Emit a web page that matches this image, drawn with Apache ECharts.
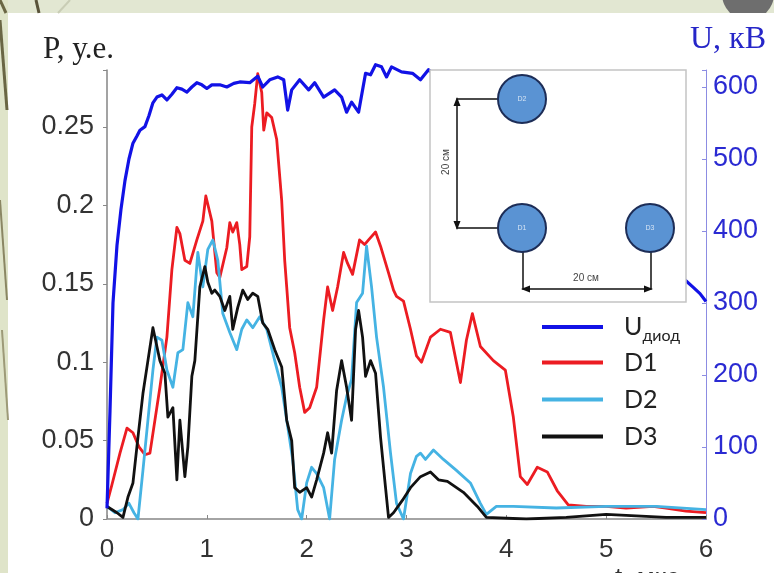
<!DOCTYPE html>
<html>
<head>
<meta charset="utf-8">
<script src="https://cdn.jsdelivr.net/npm/echarts@6/dist/echarts.min.js"></script>
<style>
  html, body { margin: 0; padding: 0; background: #fff; }
  #chart { width: 774px; height: 573px; }
</style>
</head>
<body>
<div id="chart"></div>
<script>
// Time axis, мкс
const xTicks = [0, 1, 2, 3, 4, 5, 6];
const pTicks = [0, 0.05, 0.1, 0.15, 0.2, 0.25];
const uTicks = [0, 100, 200, 300, 400, 500, 600];

// Diode voltage U, кВ  ([t, U])
const uDiod = [
  [0,15],[0.03,150],[0.06,300],[0.1,380],[0.14,430],[0.18,470],[0.22,500],[0.26,522],
  [0.3,532],[0.33,540],[0.38,545],[0.42,560],[0.46,578],[0.5,586],[0.55,589],[0.6,582],
  [0.65,590],[0.7,599],[0.75,597],[0.8,593],[0.85,600],[0.9,606],[0.95,603],[1.0,598],
  [1.05,603],[1.13,603],[1.2,600],[1.27,605],[1.33,607],[1.43,606],[1.51,615],[1.56,600],
  [1.63,610],[1.71,614],[1.77,610],[1.81,568],[1.85,596],[1.93,610],[2.02,596],[2.08,606],
  [2.17,586],[2.28,596],[2.35,586],[2.4,565],[2.45,579],[2.52,565],[2.59,619],[2.64,617],
  [2.69,631],[2.75,628],[2.8,614],[2.85,628],[2.95,621],[3.06,619],[3.14,610],[3.22,624],
  [5.79,332],[5.87,322],[5.94,313],[6.0,302]
];

// Detector D1, у.е.
const d1 = [
  [0,0.010],[0.05,0.022],[0.13,0.042],[0.2,0.058],[0.26,0.055],[0.32,0.046],[0.38,0.041],
  [0.43,0.042],[0.53,0.084],[0.6,0.116],[0.65,0.159],[0.7,0.186],[0.73,0.182],[0.78,0.165],
  [0.83,0.163],[0.9,0.178],[0.96,0.19],[0.99,0.206],[1.05,0.19],[1.1,0.157],[1.13,0.154],
  [1.2,0.173],[1.23,0.189],[1.26,0.183],[1.3,0.189],[1.33,0.175],[1.35,0.159],[1.4,0.161],
  [1.43,0.18],[1.45,0.25],[1.48,0.265],[1.51,0.284],[1.55,0.272],[1.57,0.248],[1.6,0.259],
  [1.65,0.256],[1.7,0.242],[1.75,0.203],[1.78,0.165],[1.8,0.148],[1.83,0.122],[1.88,0.106],
  [1.93,0.084],[1.98,0.068],[2.03,0.071],[2.1,0.084],[2.17,0.127],[2.21,0.148],[2.26,0.133],
  [2.31,0.148],[2.37,0.17],[2.41,0.163],[2.46,0.156],[2.53,0.178],[2.58,0.175],[2.62,0.178],
  [2.69,0.183],[2.74,0.174],[2.82,0.157],[2.87,0.146],[2.9,0.142],[2.97,0.139],[3.04,0.121],
  [3.1,0.104],[3.15,0.1],[3.24,0.116],[3.34,0.121],[3.44,0.119],[3.54,0.087],[3.6,0.114],
  [3.66,0.131],[3.74,0.11],[3.87,0.101],[3.99,0.095],[4.07,0.065],[4.14,0.027],[4.21,0.022],
  [4.31,0.033],[4.41,0.03],[4.51,0.018],[4.62,0.009],[4.8,0.008],[5.0,0.008],[5.2,0.007],
  [5.47,0.008],[5.6,0.007],[5.8,0.005],[6.0,0.004]
];

// Detector D2, у.е.
const d2 = [
  [0,0.008],[0.08,0.004],[0.16,0.006],[0.22,0.01],[0.27,0.004],[0.31,0.0],[0.36,0.031],
  [0.41,0.063],[0.46,0.095],[0.5,0.116],[0.55,0.114],[0.6,0.095],[0.66,0.084],[0.71,0.106],
  [0.76,0.108],[0.81,0.138],[0.86,0.129],[0.91,0.17],[0.96,0.148],[1.01,0.172],[1.06,0.178],
  [1.11,0.165],[1.16,0.131],[1.23,0.119],[1.3,0.108],[1.35,0.121],[1.4,0.127],[1.46,0.122],
  [1.53,0.129],[1.6,0.121],[1.68,0.101],[1.75,0.084],[1.81,0.059],[1.86,0.038],[1.91,0.006],
  [1.95,0.0],[2.0,0.023],[2.05,0.033],[2.1,0.029],[2.17,0.02],[2.23,0.0],[2.28,0.038],
  [2.35,0.063],[2.4,0.078],[2.45,0.089],[2.5,0.138],[2.56,0.144],[2.6,0.174],[2.65,0.148],
  [2.7,0.116],[2.77,0.084],[2.84,0.042],[2.9,0.01],[2.97,0.0],[3.04,0.029],[3.1,0.04],
  [3.14,0.042],[3.19,0.038],[3.27,0.044],[3.37,0.038],[3.5,0.031],[3.64,0.023],[3.74,0.01],
  [3.8,0.003],[3.9,0.008],[4.07,0.008],[4.5,0.007],[5.0,0.008],[5.5,0.008],[6.0,0.006]
];

// Detector D3, у.е.
const d3 = [
  [0,0.008],[0.1,0.004],[0.16,0.001],[0.21,0.014],[0.26,0.023],[0.31,0.052],[0.36,0.08],
  [0.41,0.101],[0.46,0.122],[0.5,0.11],[0.53,0.101],[0.58,0.093],[0.61,0.065],[0.66,0.071],
  [0.7,0.025],[0.73,0.063],[0.78,0.027],[0.81,0.046],[0.85,0.091],[0.88,0.101],[0.93,0.148],
  [0.98,0.161],[1.01,0.151],[1.05,0.144],[1.08,0.146],[1.13,0.142],[1.18,0.133],[1.23,0.142],
  [1.26,0.121],[1.31,0.135],[1.36,0.146],[1.41,0.14],[1.46,0.144],[1.51,0.142],[1.56,0.125],
  [1.61,0.121],[1.68,0.108],[1.75,0.097],[1.8,0.063],[1.85,0.05],[1.88,0.02],[1.93,0.017],
  [2.0,0.02],[2.05,0.014],[2.1,0.025],[2.17,0.042],[2.21,0.055],[2.25,0.042],[2.3,0.082],
  [2.35,0.101],[2.4,0.084],[2.45,0.063],[2.49,0.121],[2.52,0.133],[2.56,0.116],[2.59,0.091],
  [2.64,0.101],[2.69,0.093],[2.74,0.052],[2.79,0.02],[2.82,0.001],[2.87,0.004],[2.96,0.012],
  [3.04,0.02],[3.14,0.027],[3.24,0.03],[3.32,0.025],[3.41,0.024],[3.57,0.017],[3.71,0.008],
  [3.8,0.001],[4.2,0.0],[4.6,0.001],[5.0,0.003],[5.3,0.002],[5.6,0.001],[6.0,0.001]
];

const seriesNames = ['Uдиод', 'D1', 'D2', 'D3'];
const seriesColors = ['#1212e6', '#ec1c22', '#45b3e3', '#111111'];

// Plot box
const GRID = { left: 107, right: 68, top: 70, bottom: 54 };
const PX_PER_P = 1568;   // px per 1 у.е.
const PX_PER_U = 0.72;   // px per 1 кВ
const plotH = 573 - GRID.top - GRID.bottom;
const P_MAX = plotH / PX_PER_P;
const U_MAX = plotH / PX_PER_U;

function onStep(step, digits) {
  return v => {
    const k = v / step;
    if (Math.abs(k - Math.round(k)) > 1e-6) return '';
    return String(+v.toFixed(digits));
  };
}

const chart = echarts.init(document.getElementById('chart'), null, { renderer: 'canvas' });

// Inset: detector layout
const dCol = '#5a93d3', dEdge = '#1d2d57', dimCol = '#111';
function detector(cx, cy, label) {
  return [
    { type: 'circle', z: 60, shape: { cx, cy, r: 24 }, style: { fill: dCol, stroke: dEdge, lineWidth: 2 } },
    { type: 'text', z: 61, x: cx, y: cy, style: { text: label, fill: 'rgba(255,255,255,0.75)', font: '7px Liberation Sans', textAlign: 'center', textVerticalAlign: 'middle' } }
  ];
}
function seg(pts, w) {
  return { type: 'polyline', z: 60, shape: { points: pts }, style: { stroke: dimCol, lineWidth: w || 1.5, fill: null } };
}
function tri(pts) {
  return { type: 'polygon', z: 61, shape: { points: pts }, style: { fill: dimCol } };
}

const graphics = [
  // slide frame: top and left strips
  { type: 'rect', z: 0, shape: { x: 0, y: 0, width: 774, height: 13 }, style: { fill: '#e2e7d2' } },
  { type: 'rect', z: 0, shape: { x: 0, y: 0, width: 8, height: 573 }, style: { fill: '#dfe4c9' } },
  { type: 'polyline', z: 0, shape: { points: [[0, 20], [7, 110]] }, style: { stroke: '#6a6644', lineWidth: 3 } },
  { type: 'polyline', z: 0, shape: { points: [[0, 200], [7, 300]] }, style: { stroke: '#8a8663', lineWidth: 2 } },
  { type: 'polyline', z: 0, shape: { points: [[2, 330], [8, 420]] }, style: { stroke: '#9d9a78', lineWidth: 2 } },
  { type: 'polyline', z: 0, shape: { points: [[36, 0], [39, 13]] }, style: { stroke: '#59533a', lineWidth: 3 } },
  { type: 'polyline', z: 0, shape: { points: [[0, 0], [6, 13]] }, style: { stroke: '#6a6644', lineWidth: 3 } },
  { type: 'polyline', z: 0, shape: { points: [[58, 13], [70, 0]] }, style: { stroke: '#c9cdb5', lineWidth: 2 } },
  { type: 'circle', z: 0, shape: { cx: 748, cy: -6, r: 26 }, style: { fill: '#6e6e6e' } },
  { type: 'rect', z: 1, shape: { x: 700, y: 13, width: 74, height: 20 }, style: { fill: '#ffffff' } },

  // axis titles
  { type: 'text', z: 5, x: 43, y: 50, style: { text: 'P, у.е.', font: '31px Liberation Serif', fill: '#222', textVerticalAlign: 'middle' } },
  { type: 'text', z: 5, x: 690, y: 40, style: { text: 'U, кВ', font: '32px Liberation Serif', fill: '#2626c8', textVerticalAlign: 'middle' } },
  { type: 'text', z: 5, x: 615, y: 566, style: { text: 't, мкс', font: '26px Liberation Sans', fill: '#333', textVerticalAlign: 'top' } },

  // inset frame
  { type: 'rect', z: 59, shape: { x: 430, y: 70, width: 256, height: 232 }, style: { fill: '#ffffff', stroke: '#c4c4c4', lineWidth: 1.5 } },
  // vertical dimension
  seg([[498, 99], [457, 99], [457, 228], [498, 228]]),
  tri([[457, 97], [453.5, 106], [460.5, 106]]),
  tri([[457, 230], [453.5, 221], [460.5, 221]]),
  { type: 'text', z: 61, x: 446, y: 162, rotation: Math.PI / 2, style: { text: '20 см', font: '10px Liberation Sans', fill: '#444', textAlign: 'center', textVerticalAlign: 'middle' } },
  // horizontal dimension
  seg([[523, 250], [523, 289], [651, 289], [651, 250]]),
  tri([[521, 289], [530, 285.5], [530, 292.5]]),
  tri([[653, 289], [644, 285.5], [644, 292.5]]),
  { type: 'text', z: 61, x: 586, y: 278, style: { text: '20 см', font: '10px Liberation Sans', fill: '#444', textAlign: 'center', textVerticalAlign: 'middle' } },
  ...detector(522, 99, 'D2'),
  ...detector(522, 228, 'D1'),
  ...detector(650, 228, 'D3')
];

// one legend block per entry, stacked
const legendTops = [310, 350, 387, 424];
const legends = seriesNames.map((n, i) => ({
  data: [n],
  left: 542,
  top: legendTops[i],
  padding: 0,
  icon: 'rect',
  itemWidth: 61,
  itemHeight: 4,
  z: 70,
  formatter: i === 0 ? '{u|U}{s|диод}' : '{u|' + n + '}',
  textStyle: {
    padding: [0, 0, 0, 16],
    rich: {
      u: { fontSize: 25, fontFamily: 'Lato', color: '#222', lineHeight: 26 },
      s: { fontSize: 16, fontFamily: 'Lato', color: '#222', lineHeight: 16, padding: [18, 0, 0, 0] }
    }
  }
}));

const lineSeries = [uDiod, d1, d2, d3].map((data, i) => ({
  name: seriesNames[i],
  type: 'line',
  yAxisIndex: i === 0 ? 1 : 0,
  data,
  symbol: 'none',
  showSymbol: false,
  clip: i !== 0,
  z: i === 0 ? 4 : 3,
  lineStyle: { color: seriesColors[i], width: i === 0 ? 3.2 : 2.8, join: 'round' },
  itemStyle: { color: seriesColors[i] }
}));

chart.setOption({
  animation: false,
  backgroundColor: '#ffffff',
  grid: { left: GRID.left, right: GRID.right, top: GRID.top, bottom: GRID.bottom, containLabel: false },
  xAxis: {
    type: 'value',
    min: xTicks[0],
    max: xTicks[xTicks.length - 1],
    interval: 1,
    axisLine: { lineStyle: { color: '#a4a4a4', width: 2 } },
    axisTick: { inside: true, length: 4, lineStyle: { color: '#888' } },
    axisLabel: { fontSize: 26, fontFamily: 'Liberation Sans', color: '#333', margin: 18 },
    splitLine: { show: false }
  },
  yAxis: [
    {
      type: 'value',
      position: 'left',
      min: pTicks[0],
      max: P_MAX,
      interval: 0.05,
      axisLine: { show: true, lineStyle: { color: '#858585', width: 1.5 } },
      axisTick: { show: true, inside: false, length: 4, lineStyle: { color: '#888' } },
      axisLabel: { fontSize: 27, fontFamily: 'Liberation Sans', color: '#333', margin: 13, formatter: onStep(0.05, 2) },
      splitLine: { show: false }
    },
    {
      type: 'value',
      position: 'right',
      min: uTicks[0],
      max: U_MAX,
      interval: 100,
      axisLine: { show: true, lineStyle: { color: '#8c8ce2', width: 1 } },
      axisTick: { show: true, inside: true, length: 4, lineStyle: { color: '#8c8ce2' } },
      axisLabel: { fontSize: 27, fontFamily: 'Liberation Sans', color: '#2a2ad2', margin: 7, formatter: onStep(100, 0) },
      splitLine: { show: false }
    }
  ],
  legend: legends,
  graphic: graphics,
  series: lineSeries
});
</script>
</body>
</html>
